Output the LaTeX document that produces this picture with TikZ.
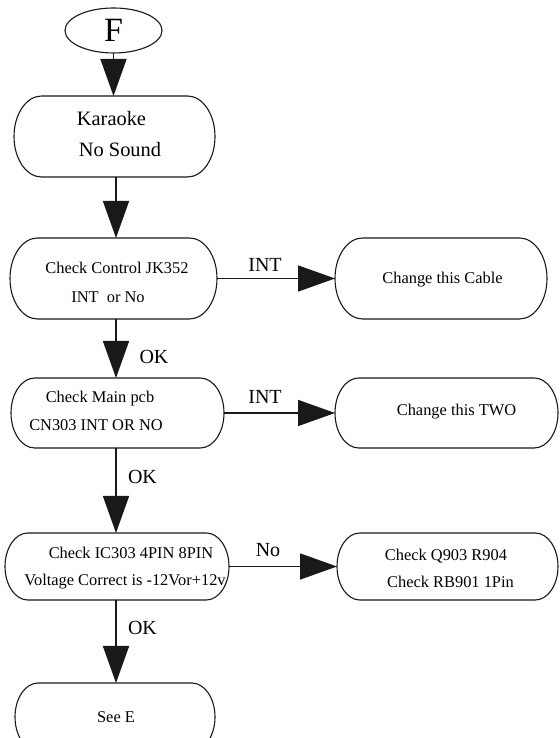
\documentclass[tikz,border=0pt]{standalone}
\usepackage{fontspec}
\setmainfont{Liberation Serif}
\usetikzlibrary{arrows.meta,shapes.geometric}
\newcommand{\stadium}[5]{%
  \node[minimum width=#4pt, minimum height=#5pt, inner sep=0pt, outer sep=0pt] (#1) at (#2,#3) {};
  \pgfmathsetmacro\srx{0.34*#5}%
  \pgfmathsetmacro\sry{#5/2}%
  \draw[boxline] ([xshift=\srx pt]#1.north west) -- ([xshift=-\srx pt]#1.north east)
    arc[start angle=90, end angle=-90, x radius=\srx pt, y radius=\sry pt]
    -- ([xshift=\srx pt]#1.south west)
    arc[start angle=270, end angle=90, x radius=\srx pt, y radius=\sry pt] -- cycle;
}
\begin{document}
\begin{tikzpicture}[x=1pt,y=1pt,
  boxline/.style={draw=black!90, line width=1.1pt},
  arr/.style={draw=black!90, fill=black!90, line width=1.6pt, -{Triangle[width=26pt,length=37pt]}},
  big/.style={font=\fontsize{20.4}{31}\selectfont, align=center, inner sep=0pt},
  small/.style={font=\fontsize{16.4}{28}\selectfont, align=center, inner sep=0pt},
  lab/.style={font=\fontsize{20}{24}\selectfont, inner sep=0pt}]
\clip (0,0) rectangle (559,738);
\fill[white] (0,0) rectangle (559,738);
% start
\node[ellipse, boxline, minimum width=97pt, minimum height=45pt, inner sep=0pt,
  font=\fontsize{34}{34}\selectfont] (f) at (113.5,707.5) {\raisebox{-2.5pt}{F}};
% boxes
\stadium{kar}{114.5}{601.5}{201}{81}
\stadium{cc}{113.5}{459.5}{207}{81}
\stadium{cable}{441}{459.5}{212}{81}
\stadium{mp}{117.5}{325}{213}{70}
\stadium{two}{446.5}{325}{223}{70}
\stadium{ic}{117}{171.5}{224}{67}
\stadium{q}{447.5}{171.5}{221}{67}
\stadium{seee}{115}{21}{200}{68}
% texts
\node[big] (kar-t) at (115.75,603.5) {\hspace*{-8.5pt}Karaoke\\\hspace*{8.5pt}No Sound};
\node[small, font=\fontsize{16.4}{29}\selectfont] (cc-t) at (112.5,455.5) {\hspace*{9pt}Check Control JK352\\\hspace*{-9pt}INT\ \ or No};
\node[small] (cable-t) at (442.5,458) {Change this Cable};
\node[small] (mp-t) at (98,327) {\hspace*{4pt}Check Main pcb\\\hspace*{-4pt}CN303 INT OR NO};
\node[small] (two-t) at (456.5,326) {Change this TWO};
\node[small, font=\fontsize{16.4}{27}\selectfont] (ic-t) at (128,169.5) {\hspace*{6pt}Check IC303 4PIN 8PIN\\\hspace*{-6pt}Voltage Correct is -12Vor+12v};
\node[small, font=\fontsize{16.4}{27}\selectfont] (q-t) at (448.25,169.5) {\hspace*{-4.5pt}Check Q903 R904\\\hspace*{4.5pt}Check RB901 1Pin};
\node[small] (seee-t) at (116,21) {See E};
% labels
\node[lab] (int1) at (265,473) {INT};
\node[lab] (int2) at (265,341) {INT};
\node[lab] (no1) at (268,188) {No};
\node[lab] (ok1) at (154,381) {OK};
\node[lab] (ok2) at (142.5,261) {OK};
\node[lab] (ok3) at (142.5,110) {OK};
% connectors
\coordinate (vx) at (116,0);
\draw[arr] (f.south) -- (f.south |- kar.north);
\draw[arr] (kar.south -| vx) -- (cc.north -| vx);
\draw[arr] (cc.south -| vx) -- (mp.north -| vx);
\draw[arr] (mp.south -| vx) -- (ic.north -| vx);
\draw[arr] (ic.south -| vx) -- (seee.north -| vx);
\draw[arr] (cc.east) -- (cable.west);
\draw[arr] (mp.east) -- (two.west);
\draw[arr] (ic.east) -- (q.west);
\end{tikzpicture}
\end{document}
